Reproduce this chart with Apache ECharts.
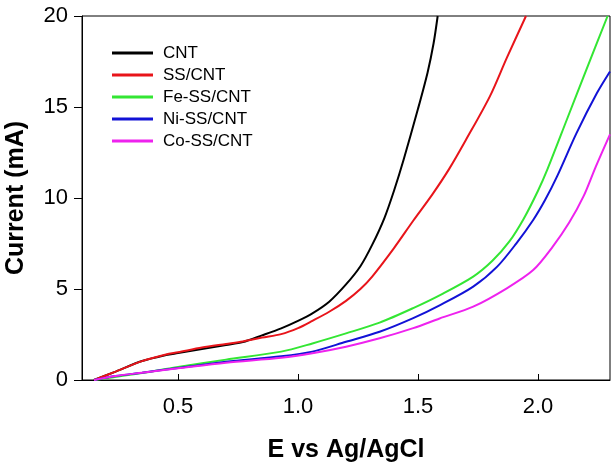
<!DOCTYPE html>
<html>
<head>
<meta charset="utf-8">
<script src="https://cdn.jsdelivr.net/npm/echarts@6/dist/echarts.min.js"></script>
<style>html,body{margin:0;padding:0;background:#fff}#c{width:615px;height:463px}</style>
</head>
<body>
<div id="c"></div>
<script>
const seriesNames = ['CNT', 'SS/CNT', 'Fe-SS/CNT', 'Ni-SS/CNT', 'Co-SS/CNT'];
const xTickValues = [0.5, 1.0, 1.5, 2.0];
const yTickValues = [0, 5, 10, 15, 20];

const cntE = [0.15,0.24,0.35,0.45,0.50,0.60,0.70,0.77,0.85,0.93,1.00,1.06,1.13,1.20,1.26,1.31,1.36,1.40,1.44,1.50,1.54,1.565,1.582];
const cntI = [0,0.46,1.04,1.37,1.48,1.70,1.92,2.08,2.45,2.84,3.25,3.66,4.3,5.25,6.25,7.45,8.9,10.4,12.1,14.9,16.9,18.5,20];

const ssE = [0.15,0.24,0.35,0.45,0.50,0.60,0.70,0.77,0.85,0.93,1.00,1.06,1.13,1.20,1.26,1.31,1.40,1.48,1.56,1.63,1.70,1.80,1.87,1.95];
const ssI = [0,0.46,1.04,1.40,1.52,1.78,1.98,2.12,2.33,2.52,2.85,3.25,3.75,4.35,5.0,5.7,7.25,8.75,10.2,11.6,13.2,15.6,17.7,20];

const feE = [0.15,0.23,0.35,0.50,0.70,0.93,1.06,1.20,1.34,1.48,1.60,1.73,1.81,1.88,1.94,2.00,2.04,2.12,2.20,2.29];
const feI = [0,0.15,0.38,0.72,1.12,1.56,2.01,2.56,3.15,3.95,4.72,5.68,6.55,7.6,8.85,10.4,11.6,14.3,17.0,20];

const niE = [0.15,0.24,0.35,0.50,0.70,0.93,1.06,1.20,1.34,1.48,1.59,1.73,1.83,1.91,1.98,2.03,2.08,2.16,2.245,2.30];
const niI = [0,0.22,0.40,0.66,1.0,1.30,1.56,2.1,2.65,3.4,4.1,5.13,6.23,7.51,8.79,9.9,11.2,13.55,15.75,16.95];

const coE = [0.15,0.24,0.35,0.50,0.70,0.93,1.06,1.20,1.34,1.48,1.59,1.73,1.87,1.98,2.06,2.13,2.19,2.24,2.30];
const coI = [0,0.22,0.40,0.64,0.95,1.22,1.47,1.83,2.29,2.85,3.38,4.03,5.04,6.04,7.3,8.65,10.1,11.7,13.5];

const allE = [cntE, ssE, feE, niE, coE];
const allI = [cntI, ssI, feI, niI, coI];
const colors = ['#000000', '#e8141a', '#33e633', '#1212d6', '#ee22ee'];

const font = 'Arial, "Liberation Sans", sans-serif';
const chart = echarts.init(document.getElementById('c'), null, {renderer: 'canvas'});
chart.setOption({
  animation: false,
  backgroundColor: '#fff',
  grid: {left: 82, right: 5, top: 16, bottom: 83, show: true, borderColor: '#000', borderWidth: 1,
    containLabel: false, outerBoundsMode: 'none'},
  legend: {
    orient: 'vertical', left: 112, top: 44, padding: 0,
    itemWidth: 41, itemHeight: 3, itemGap: 4, icon: 'rect',
    textStyle: {fontFamily: font, fontSize: 17, color: '#000', lineHeight: 18, padding: [0, 0, 0, 5]},
    data: seriesNames
  },
  xAxis: {
    type: 'value', min: 0.1, max: 2.3,
    name: 'E vs Ag/AgCl', nameLocation: 'middle', nameGap: 58,
    nameTextStyle: {fontFamily: font, fontSize: 25, fontWeight: 'bold', color: '#000'},
    axisLine: {show: true, lineStyle: {color: '#000', width: 1}},
    axisTick: {show: true, inside: true, length: 6, lineStyle: {color: '#000'}, customValues: xTickValues},
    axisLabel: {fontFamily: font, fontSize: 22, color: '#000', margin: 16, customValues: xTickValues,
      formatter: v => v.toFixed(1)},
    splitLine: {show: false}
  },
  yAxis: {
    type: 'value', min: 0, max: 20, interval: 5,
    name: 'Current (mA)', nameLocation: 'middle', nameGap: 53,
    nameTextStyle: {fontFamily: font, fontSize: 25, fontWeight: 'bold', color: '#000'},
    axisLine: {show: true, lineStyle: {color: '#000', width: 1}},
    axisTick: {show: true, inside: false, length: 8, lineStyle: {color: '#000'}},
    axisLabel: {fontFamily: font, fontSize: 22, color: '#000', margin: 14, customValues: yTickValues},
    splitLine: {show: false}
  },
  series: seriesNames.map((n, k) => ({
    name: n, type: 'line', showSymbol: false, smooth: 0.3,
    clip: true,
    lineStyle: {color: colors[k], width: 2},
    itemStyle: {color: colors[k]},
    data: allE[k].map((e, i) => [e, allI[k][i]])
  }))
});
</script>
</body>
</html>
